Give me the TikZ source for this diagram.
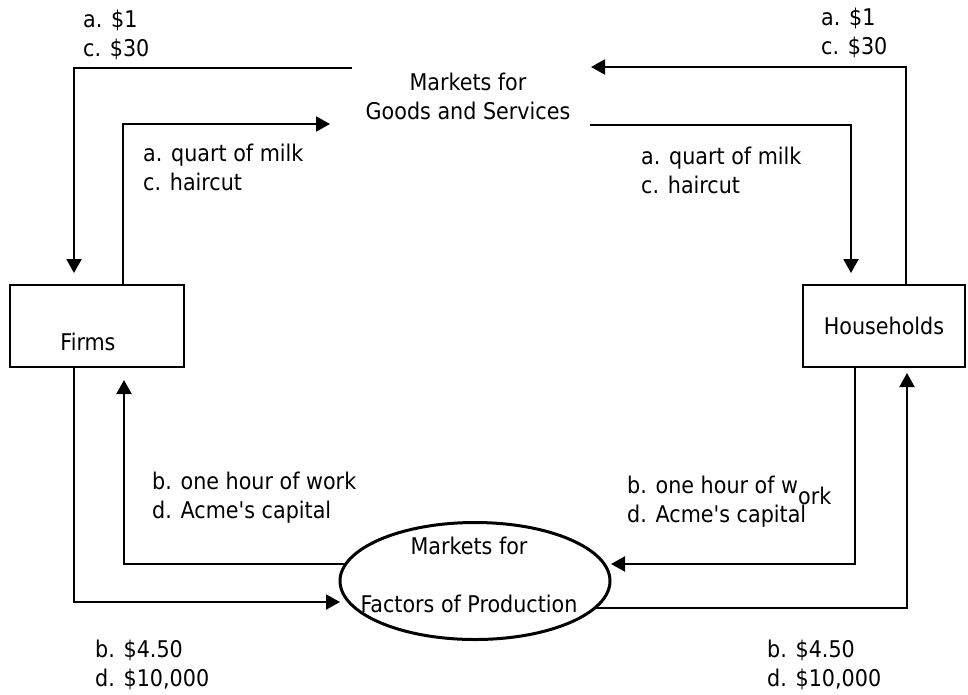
\documentclass[tikz,border=0pt]{standalone}
\usepackage{fontspec}
\setmainfont{DejaVu Sans Condensed}
\usetikzlibrary{arrows.meta,shapes.geometric}
\begin{document}
\begin{tikzpicture}[x=1pt,y=-1pt,
  every node/.style={font=\fontsize{23}{29}\selectfont, inner sep=0pt},
  lbl/.style={align=left, anchor=base west},
  box/.style={draw, line width=2pt, rectangle},
  arr/.style={line width=2pt, -{Triangle[length=14pt,width=15pt]}}]
\useasboundingbox (0,0) rectangle (968,694);

% main nodes
\node[box, minimum width=174pt, minimum height=82pt] (firms) at (97,326) {};
\node[anchor=base] (firmstxt) at (88,350) {Firms};
\node[box, minimum width=162pt, minimum height=82pt] (hh) at (884,326) {Households};
\node[align=center, anchor=base] (goods) at (468,119) {Markets for\\Goods and Services};
\node[ellipse, draw, line width=3pt, minimum width=270pt, minimum height=117pt] (fop) at (475,581) {};
\node[align=center, anchor=base] (foptxt) at (469,612) {Markets for\\[29pt]Factors of Production};

% labels
\node[lbl] (l1) at (83,56) {a. \$1\\c. \$30};
\node[lbl] (l2) at (821,54) {a. \$1\\c. \$30};
\node[lbl] (l3) at (143,190) {a. quart of milk\\c. haircut};
\node[lbl] (l4) at (641,193) {a. quart of milk\\c. haircut};
\node[lbl] (l5) at (152,518) {b. one hour of work\\d. Acme\textquotesingle s capital};
\node[lbl] (l6) at (627,522) {b. one hour of w\raisebox{-11pt}{ork}\\d. Acme\textquotesingle s capital};
\node[lbl] (l7) at (95,686) {b. \$4.50\\d. \$10,000};
\node[lbl] (l8) at (767,686) {b. \$4.50\\d. \$10,000};

% free ends
\coordinate (p1s) at (352,68);
\coordinate (p1e) at (74,273);
\coordinate (p2e) at (330,124);
\coordinate (p3e) at (591,67);
\coordinate (p4s) at (590,125);
\coordinate (p4e) at (851,273);
\coordinate (p5e) at (340,602);
\coordinate (p6s) at (346,564);
\coordinate (p6e) at (124,380);
\coordinate (p7e) at (611,564);
\coordinate (p8s) at (595,608);
\coordinate (p8e) at (907,373);

% connectors
\draw[arr] (p1s) -| (p1e);
\draw[arr] ([xshift=26pt]firms.north) |- (p2e);
\draw[arr] ([xshift=22pt]hh.north) |- (p3e);
\draw[arr] (p4s) -| (p4e);
\draw[arr] ([xshift=-23pt]firms.south) |- (p5e);
\draw[arr] (p6s) -| (p6e);
\draw[arr] ([xshift=-29pt]hh.south) |- (p7e);
\draw[arr] (p8s) -| (p8e);
\end{tikzpicture}
\end{document}
